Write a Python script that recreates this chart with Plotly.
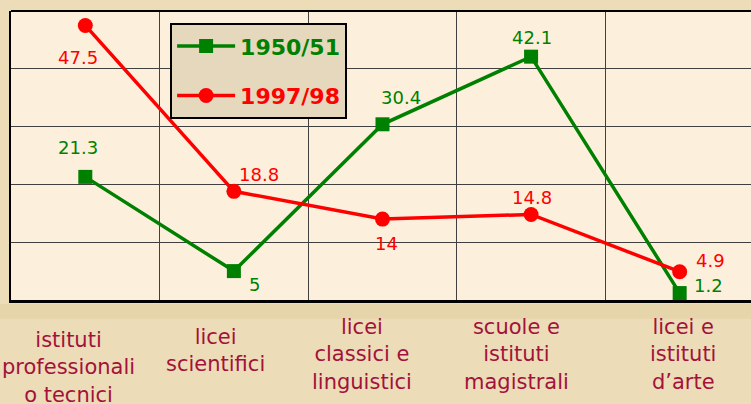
import plotly.graph_objects as go

categories = ["istituti<br>professionali<br>o tecnici", "licei<br>scientifici",
              "licei<br>classici e<br>linguistici", "scuole e<br>istituti<br>magistrali",
              "licei e<br>istituti<br>d’arte"]
series_names = ["1950/51", "1997/98"]
values_1950 = [21.3, 5, 30.4, 42.1, 1.2]
values_1997 = [47.5, 18.8, 14, 14.8, 4.9]
y_range = [0, 50]
y_step = 10

GREEN = "#008000"
RED = "#ff0000"
CAT_COLOR = "#a3123a"
FONT = "DejaVu Sans"

# label offsets (pixels) - styling only
green_off = [(-7, -29), (21, 13), (19, -27), (1, -19), (29, -8)]
red_off = [(-7, 32), (25, -17), (4, 24), (1, -17), (31, -11)]
cat_off = [(-17, -26), (-18, -23), (-20, -13), (-15, -13), (3, -13)]

fig = go.Figure()
fig.add_trace(go.Scatter(x=categories, y=values_1950,
                         name="<b><span style='color:#008000'>" + series_names[0] + "</span></b>",
                         mode="lines+markers",
                         line=dict(color=GREEN, width=3.5),
                         marker=dict(symbol="square", size=14, color=GREEN),
                         legendgroup="a"))
fig.add_trace(go.Scatter(x=categories, y=values_1997,
                         name="<b><span style='color:#ff0000'>" + series_names[1] + "</span></b>",
                         mode="lines+markers",
                         line=dict(color=RED, width=3.5),
                         marker=dict(symbol="circle", size=15, color=RED),
                         legendgroup="b"))

ann = []
for vals, offs, col in [(values_1950, green_off, GREEN), (values_1997, red_off, RED)]:
    for c, v, (dx, dy) in zip(categories, vals, offs):
        ann.append(dict(x=c, y=v, text=f"{v:g}", showarrow=False, xshift=dx, yshift=-dy,
                        font=dict(family=FONT, size=18, color=col)))
for c, (dx, dy) in zip(categories, cat_off):
    ann.append(dict(x=c, y=0, yref="paper", text=c, showarrow=False, yanchor="top",
                    xshift=dx, yshift=dy, align="center",
                    font=dict(family=FONT, size=21, color=CAT_COLOR)))

fig.update_layout(
    width=751, height=404,
    margin=dict(l=11, r=0, t=11, b=104),
    paper_bgcolor="#ecdcb8",
    plot_bgcolor="#fcf0dc",
    showlegend=True,
    legend=dict(x=0.215, y=0.958, xanchor="left", yanchor="top",
                bgcolor="#e6d8bc", bordercolor="black", borderwidth=2,
                font=dict(family=FONT, size=22, color="black"),
                tracegroupgap=18, itemwidth=58),
    annotations=ann,
    shapes=[
        dict(type="rect", xref="paper", yref="paper", x0=-0.02, x1=1.02, y0=-0.065, y1=-0.015,
             fillcolor="#e6d4aa", line=dict(width=0), layer="below"),
        dict(type="line", xref="paper", yref="paper", x0=0, x1=1, y0=1, y1=1,
             line=dict(color="black", width=2)),
    ],
    xaxis=dict(range=[-0.5, 4.48], tickson="boundaries", showgrid=True, gridcolor="#404040",
               gridwidth=1, showticklabels=False, ticks="", showline=True, linecolor="black",
               linewidth=3, zeroline=False),
    yaxis=dict(range=y_range, dtick=y_step, showgrid=True, gridcolor="#404040", gridwidth=1,
               showticklabels=False, ticks="", showline=True, linecolor="black", linewidth=2,
               zeroline=False),
)

fig.write_html("out.html", config={"displayModeBar": False},
               post_script="document.body.style.margin='0';document.body.style.overflow='hidden';")
